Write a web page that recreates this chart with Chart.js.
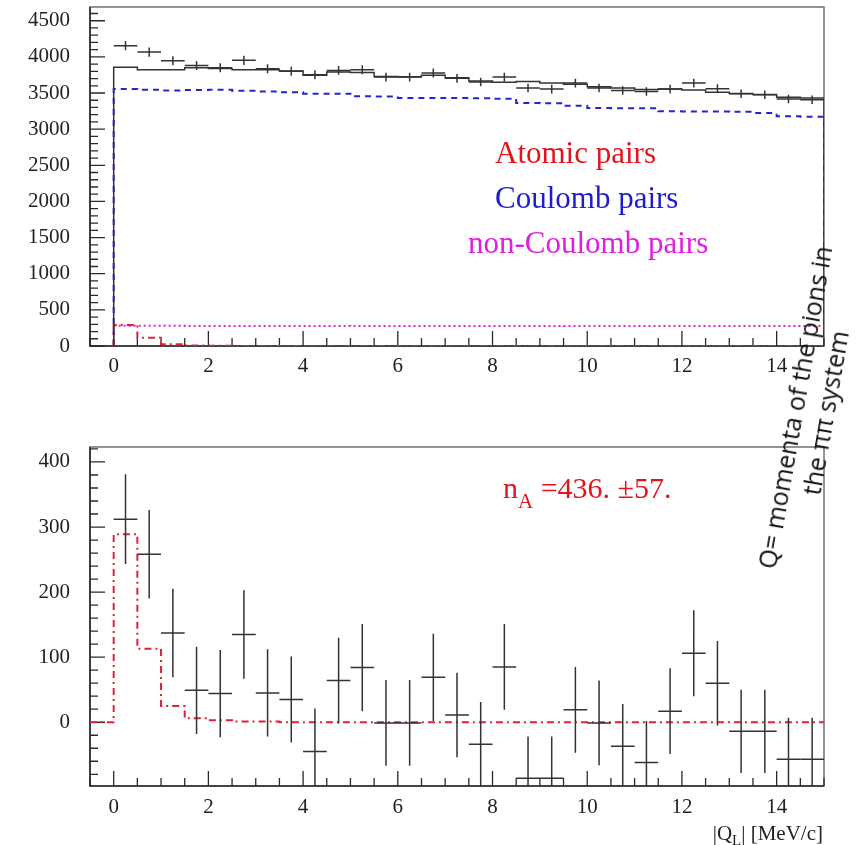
<!DOCTYPE html>
<html>
<head>
<meta charset="utf-8">
<script src="https://cdn.jsdelivr.net/npm/chart.js@4.4.1/dist/chart.umd.min.js"></script>
<style>
  html, body { margin: 0; padding: 0; background: #fff; }
  #page { position: relative; width: 863px; height: 845px; overflow: hidden; }
  canvas { position: absolute; left: 0; }
  .txt { position: absolute; font-family: 'Liberation Serif', 'Times New Roman', serif; line-height: 1; white-space: nowrap; z-index: 2; }
  .legend { font-size: 31px; }
  .fit-result { font-size: 30px; color: #e3141e; left: 503px; top: 473px; }
  .fit-result sub { font-size: 21px; vertical-align: baseline; position: relative; top: 10px; }
  .axis-title { font-size: 21px; color: #222; right: 40px; top: 823px; }
  .axis-title sub { font-size: 15px; vertical-align: baseline; position: relative; top: 5px; }
  .note { position: absolute; left: 630px; top: 379px; width: 360px; text-align: center;
          font-family: 'Open Sans', 'Noto Sans', sans-serif; font-size: 25px; line-height: 31px;
          color: #111; transform: rotate(-80deg); transform-origin: 50% 50%; white-space: nowrap; z-index: 3; }
</style>
</head>
<body>
<div id="page">
  <canvas id="top-chart" width="863" height="430" style="top:-40px"></canvas>
  <canvas id="bottom-chart" width="863" height="445" style="top:400px"></canvas>

  <div class="txt legend" style="left:495px; top:137px; color:#e3141e;">Atomic pairs</div>
  <div class="txt legend" style="left:495px; top:182px; color:#1c1cd2;">Coulomb pairs</div>
  <div class="txt legend" style="left:468px; top:227px; color:#e01ee0;">non-Coulomb pairs</div>

  <div class="txt fit-result">n<sub>A</sub> =436. ±57.</div>
  <div class="txt axis-title">|Q<sub>L</sub>| [MeV/c]</div>

  <div class="note">Q= momenta of the pions in<br>the ππ system</div>
</div>

<script>
// Bin centres (MeV/c), bins are 0.5 wide
const binCenters = [0.25, 0.75, 1.25, 1.75, 2.25, 2.75, 3.25, 3.75, 4.25, 4.75,
                    5.25, 5.75, 6.25, 6.75, 7.25, 7.75, 8.25, 8.75, 9.25, 9.75,
                    10.25, 10.75, 11.25, 11.75, 12.25, 12.75, 13.25, 13.75, 14.25, 14.75];
const binHalfWidth = 0.25;

// Top panel: measured spectrum and fit components
const measuredPairs = [4155, 4067, 3947, 3882, 3850, 3952, 3837, 3800, 3753, 3813,
                       3823, 3721, 3721, 3777, 3703, 3652, 3721, 3569, 3555, 3638,
                       3569, 3536, 3522, 3555, 3638, 3560, 3490, 3476, 3417, 3407];
const measuredErr = [64, 64, 63, 62, 62, 63, 62, 62, 61, 62,
                     62, 61, 61, 61, 61, 60, 61, 60, 60, 60,
                     60, 59, 59, 60, 60, 60, 59, 59, 58, 58];
const totalFit = [3855, 3823, 3823, 3850, 3840, 3823, 3823, 3805, 3745, 3790,
                  3785, 3730, 3725, 3745, 3710, 3665, 3650, 3660, 3640, 3620,
                  3585, 3570, 3550, 3555, 3540, 3510, 3492, 3478, 3440, 3430];
const coulombPairs = [3555, 3545, 3535, 3540, 3545, 3530, 3520, 3510, 3490, 3490,
                      3455, 3452, 3432, 3432, 3430, 3428, 3420, 3362, 3360, 3325,
                      3292, 3290, 3290, 3246, 3245, 3245, 3240, 3222, 3178, 3172];
const nonCoulombPairs = [279, 279, 279, 278, 278, 278, 278, 278, 278, 278,
                         277, 277, 277, 277, 277, 277, 277, 277, 277, 276,
                         276, 276, 276, 276, 276, 276, 276, 275, 275, 275];
const atomicPairs = [289, 113, 25, 6, 3, 1, 1, 0, 0, 0,
                     0, 0, 0, 0, 0, 0, 0, 0, 0, 0,
                     0, 0, 0, 0, 0, 0, 0, 0, 0, 0];

// Bottom panel: residual (data minus background)
const residualPairs = [312, 258, 137, 49, 44, 135, 45, 35, -45, 64,
                       84, -1, -1, 69, 11, -34, 85, -86, -86, 19,
                       -1, -37, -62, 17, 106, 60, -14, -14, -57, -57];
const residualErr = [69, 68, 68, 67, 67, 68, 67, 66, 66, 66,
                     67, 66, 66, 67, 65, 65, 66, 64, 64, 66,
                     65, 65, 64, 66, 66, 65, 64, 64, 64, 64];

// Axes
const xRange = [-0.5, 15];
const xTickLabels = [0, 2, 4, 6, 8, 10, 12, 14];
const topYRange = [0, 4690];
const topYTickLabels = [0, 500, 1000, 1500, 2000, 2500, 3000, 3500, 4000, 4500];
const bottomYRange = [-98, 423];
const bottomYTickLabels = [0, 100, 200, 300, 400];

const INK = '#333';
const RED = '#e0203a';
const BLUE = '#2424d0';
const MAGENTA = '#e020e0';

// Histogram outline as step points (optionally dropping to a baseline at the ends)
function stepLine(values, startY, endY) {
  const pts = [];
  const first = binCenters[0] - binHalfWidth;
  const last = binCenters[binCenters.length - 1] + binHalfWidth;
  if (startY !== null) pts.push({ x: first, y: startY });
  values.forEach((v, i) => {
    pts.push({ x: binCenters[i] - binHalfWidth, y: v }, { x: binCenters[i] + binHalfWidth, y: v });
  });
  if (endY !== null) pts.push({ x: last, y: endY });
  return pts;
}

// Data points drawn as ROOT-style crosses: bin-wide bar plus vertical error bar
function errorCrosses(values, errors) {
  const pts = [];
  values.forEach((v, i) => {
    const c = binCenters[i];
    pts.push({ x: c - binHalfWidth, y: v }, { x: c + binHalfWidth, y: v }, { x: c, y: null },
             { x: c, y: v - errors[i] }, { x: c, y: v + errors[i] }, { x: c, y: null });
  });
  return pts;
}

function lineSet(label, data, color, width, dash) {
  return {
    label: label, data: data, showLine: true, borderColor: color, borderWidth: width,
    borderDash: dash || [], pointRadius: 0, tension: 0, spanGaps: false, fill: false
  };
}

function isMultiple(v, step) {
  const r = v / step;
  return Math.abs(r - Math.round(r)) < 1e-6;
}

// evenly spaced tick positions inside [lo, hi]
function tickValues(lo, hi, step) {
  const out = [];
  for (let k = Math.ceil(lo / step - 1e-9); k * step <= hi + 1e-9; k++) {
    out.push({ value: Math.round(k * step * 1000) / 1000 });
  }
  return out;
}

// Frame, axes and inward tick marks like ROOT
const rootFrame = {
  id: 'rootFrame',
  beforeDatasetsDraw(chart, args, opts) {
    const { ctx, chartArea: a } = chart;
    const xs = chart.scales.x, ys = chart.scales.y;
    ctx.save();
    ctx.strokeStyle = '#707070';
    ctx.lineWidth = 1.5;
    ctx.strokeRect(a.left, a.top, a.right - a.left, a.bottom - a.top);

    ctx.strokeStyle = '#2a2a2a';
    ctx.lineWidth = 1.6;
    ctx.beginPath();
    ctx.moveTo(a.left, a.top);
    ctx.lineTo(a.left, a.bottom);
    ctx.lineTo(a.right, a.bottom);
    ctx.stroke();

    ctx.lineWidth = 1.3;
    ctx.beginPath();
    xs.ticks.forEach(t => {
      const len = isMultiple(t.value, opts.xMajor) ? 15 : 8;
      const px = xs.getPixelForValue(t.value);
      ctx.moveTo(px, a.bottom);
      ctx.lineTo(px, a.bottom - len);
    });
    ys.ticks.forEach(t => {
      const len = isMultiple(t.value, opts.yMajor) ? 15 : 8;
      const py = ys.getPixelForValue(t.value);
      ctx.moveTo(a.left, py);
      ctx.lineTo(a.left + len, py);
    });
    ctx.stroke();
    ctx.restore();
  }
};

function makeChart(canvasId, cfg) {
  return new Chart(document.getElementById(canvasId), {
    type: 'scatter',
    data: { datasets: cfg.datasets },
    options: {
      responsive: false,
      animation: false,
      devicePixelRatio: 1,
      layout: { padding: { top: cfg.padTop, right: 39, left: 0, bottom: 0 } },
      scales: {
        x: {
          type: 'linear', min: xRange[0], max: xRange[1],
          grid: { display: false, drawTicks: false }, border: { display: false },
          afterBuildTicks: s => { s.ticks = tickValues(xRange[0], xRange[1], 0.5); },
          afterFit: s => { s.height = cfg.xAxisHeight; },
          ticks: {
            autoSkip: false, maxRotation: 0, padding: cfg.xPad,
            color: '#222', font: { family: 'Liberation Serif', size: 21 },
            callback: v => xTickLabels.includes(v) ? String(v) : ''
          }
        },
        y: {
          type: 'linear', min: cfg.yRange[0], max: cfg.yRange[1],
          grid: { display: false, drawTicks: false }, border: { display: false },
          afterBuildTicks: s => { s.ticks = tickValues(cfg.yRange[0], cfg.yRange[1], cfg.yMinor); },
          afterFit: s => { s.width = 90; },
          ticks: {
            autoSkip: false, padding: 20,
            color: '#222', font: { family: 'Liberation Serif', size: 21 },
            callback: v => cfg.yLabels.includes(v) ? String(v) : ''
          }
        }
      },
      plugins: {
        legend: { display: false },
        tooltip: { enabled: false },
        rootFrame: { xMajor: 2, yMajor: cfg.yMajor }
      }
    },
    plugins: [rootFrame]
  });
}

makeChart('top-chart', {
  padTop: 47, xAxisHeight: 44, xPad: 8,
  yRange: topYRange, yLabels: topYTickLabels, yMinor: 100, yMajor: 500,
  datasets: [
    lineSet('Data', errorCrosses(measuredPairs, measuredErr), INK, 1.5),
    lineSet('Total', stepLine(totalFit, 0, 0), INK, 1.5),
    lineSet('Atomic pairs', stepLine(atomicPairs, 0, 0), RED, 2, [7, 4, 2, 4]),
    lineSet('non-Coulomb pairs', stepLine(nonCoulombPairs, null, null), MAGENTA, 2, [2, 3]),
    lineSet('Coulomb pairs', stepLine(coulombPairs, 0, 0), BLUE, 2, [6, 5])
  ]
});

makeChart('bottom-chart', {
  padTop: 47, xAxisHeight: 59, xPad: 9,
  yRange: bottomYRange, yLabels: bottomYTickLabels, yMinor: 20, yMajor: 100,
  datasets: [
    lineSet('Data - background', errorCrosses(residualPairs, residualErr), INK, 1.5),
    lineSet('Atomic pairs fit', [{ x: xRange[0], y: 0 }].concat(stepLine(atomicPairs, 0, null)), RED, 2, [7, 4, 2, 4])
  ]
});
</script>
</body>
</html>
